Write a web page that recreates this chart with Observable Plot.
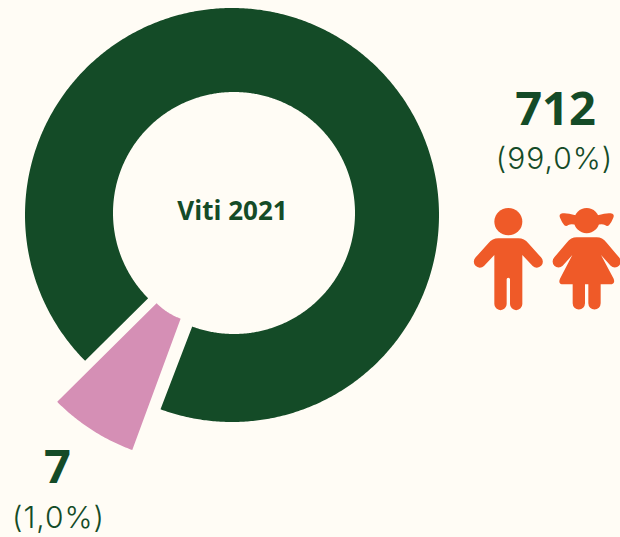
<!DOCTYPE html>
<html>
<head>
<meta charset="utf-8">
<script src="https://cdn.jsdelivr.net/npm/d3@7"></script>
<script src="https://cdn.jsdelivr.net/npm/@observablehq/plot@0.6"></script>
<style>
html,body{margin:0;padding:0;background:#fffcf5;overflow:hidden}
svg{display:block}
</style>
</head>
<body>
<div id="chart"></div>
<script>
// Data
const categories = ["Gjithsej 712", "Gjithsej 7"];
const counts = [712, 7];
const percentLabels = ["(99,0%)", "(1,0%)"];
const centerLabel = "Viti 2021";
// The drawn slices are not to scale in the original: read as degrees of the circle.
const drawnDegrees = [335, 25];
const sliceColors = ["#144b27", "#d58fb5"];

const ink = "#144b27", orange = "#ef5a28", bg = "#fffcf5";
const startDeg = 225.2;
const geom = [
  {cx: 232, cy: 215, cix: 234, ciy: 213, r0: 121, r1: 207},
  {cx: 203.4, cy: 256.7, cix: 203.4, ciy: 256.7, r0: 66, r1: 206}
];

let a = startDeg;
const points = [];
categories.forEach((c, i) => {
  const span = drawnDegrees[i];
  const g = geom[i];
  const n = Math.ceil(span * 2);
  for (let k = 0; k <= n; k++) {
    const t = (a + span * k / n) * Math.PI / 180;
    points.push({
      c,
      x1: g.cix + g.r0 * Math.sin(t), y1: g.ciy - g.r0 * Math.cos(t),
      x2: g.cx + g.r1 * Math.sin(t), y2: g.cy - g.r1 * Math.cos(t)
    });
  }
  a += span;
});

// Icons, local units = 3 per pixel, drawn through the x/y scales
const boy = "M100,115L160,115Q178,115 190,130L228,172A17,17 0 0 1 203,198L172,165L172,312A18.5,18.5 0 0 1 135,312L135,238A5,5 0 0 0 125,238L125,312A18.5,18.5 0 0 1 88,312L88,165L57,198A17,17 0 0 1 32,172L70,130Q82,115 100,115Z";
const boyHead = "M88,65A42,41 0 1 0 172,65A42,41 0 1 0 88,65Z";
const girl = "M335,112L395,112Q412,112 425,128L462,172A17,17 0 0 1 437,197L408,165L446,236Q452,253 435,253L407,253L407,310A18.5,18.5 0 0 1 370,310L370,253L360,253L360,310A18.5,18.5 0 0 1 323,310L323,253L295,253Q278,253 285,236L322,165L293,197A17,17 0 0 1 268,172L305,128Q318,112 335,112Z";
const girlHead = "M327,62A38,38 0 0 0 403,62A38,38 0 0 0 327,62Z";
const tails = "M332,46Q305,38 293,40Q280,42 285,53Q291,68 298,76Q304,80 310,75Q320,70 336,76ZM398,46Q425,38 437,40Q450,42 445,53Q439,68 432,76Q426,80 420,75Q410,70 394,76Z";

function icons(index, {x, y}) {
  const g = d3.create("svg:g").attr("fill", orange)
    .attr("transform", `translate(${x(465)},${y(200)}) scale(${1/3})`);
  for (const d of [boy, boyHead, girl, girlHead, tails]) g.append("path").attr("d", d);
  return g.node();
}

const boldFont = "'Open Sans', sans-serif";
const lightFont = "Inter, sans-serif";
const spaced = {fontFamily: lightFont, fontSize: 30, fontWeight: 300, fill: ink, lineAnchor: "bottom"};
const big = {fontSize: 47, fontWeight: 700, fill: ink, lineAnchor: "bottom"};
const chart = Plot.plot({
  width: 620, height: 537,
  margin: 0,
  x: {domain: [0, 620], range: [0, 620], axis: null},
  y: {domain: [0, 537], range: [0, 537], axis: null},
  color: {domain: categories, range: sliceColors},
  style: {background: bg, fontFamily: boldFont},
  marks: [
    Plot.area(points, {x1: "x1", y1: "y1", x2: "x2", y2: "y2", z: "c", fill: "c"}),
    Plot.text([centerLabel], {x: [232], y: [219], text: d => d, fontSize: 26, fontWeight: 700, fill: ink, lineAnchor: "bottom", textAnchor: "middle"}),
    Plot.text([String(counts[0])], {x: [555], y: [124], text: d => d, ...big}),
    Plot.text([percentLabels[0]], {x: [554], y: [168], text: d => d, ...spaced}),
    Plot.text([String(counts[1])], {x: [57], y: [482], text: d => d, ...big}),
    Plot.text([percentLabels[1]], {x: [58], y: [527], text: d => d, ...spaced}),
    icons
  ]
});
chart.querySelectorAll("text").forEach(t => {
  if (t.textContent.includes("%")) t.style.letterSpacing = "1px";
});
document.getElementById("chart").append(chart);
</script>
</body>
</html>
